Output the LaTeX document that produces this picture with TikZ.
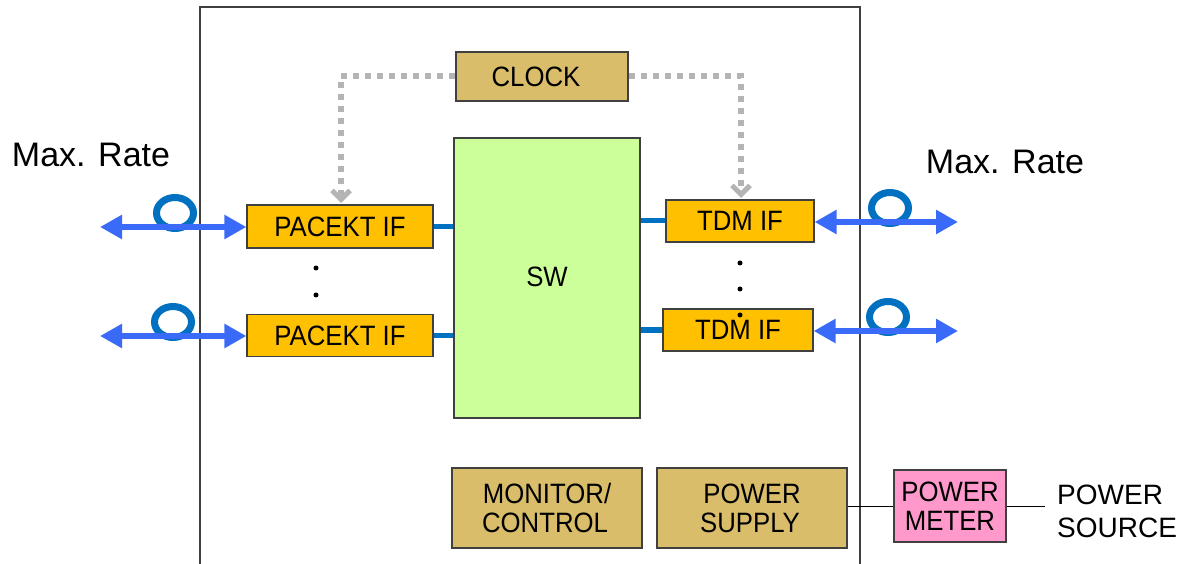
\documentclass[tikz,border=0pt]{standalone}
\usepackage{fontspec}
\setmainfont{Liberation Sans}
\newfontfamily\boxfont[FakeStretch=0.92]{Liberation Sans}
\usetikzlibrary{arrows.meta}
\definecolor{tan}{HTML}{DABD6A}
\definecolor{ifor}{HTML}{FFC000}
\definecolor{swgreen}{HTML}{CCFF99}
\definecolor{pinkm}{HTML}{FF99CC}
\definecolor{linkblue}{HTML}{0070C0}
\definecolor{arrblue}{HTML}{3A6BF8}
\definecolor{clkgray}{HTML}{B4B4B4}
\definecolor{frame}{HTML}{404040}
\tikzset{
  blk/.style={draw=frame, line width=1.2pt, inner sep=0pt, align=center,
    font=\boxfont\fontsize{28}{29}\selectfont},
  link/.style={linkblue, line width=5pt},
  bidir/.style={arrblue, line width=5.5pt,
    {Triangle[length=22pt,width=23pt]}-{Triangle[length=22pt,width=23pt]}},
  ring/.style={linkblue, line width=7pt},
  clk/.style={clkgray, line width=6pt, dash pattern=on 6pt off 6pt,
    -{Straight Barb[length=9pt,width=18pt,line width=5pt]}},
  thin/.style={draw=black, line width=1pt},
  dotm/.style={fill=black, circle, inner sep=0pt, minimum size=5pt},
  lbl/.style={inner sep=0pt, font=\fontsize{34}{36}\selectfont},
  srcl/.style={inner sep=0pt, align=left, font=\fontsize{28}{33}\selectfont}
}
\begin{document}
\begin{tikzpicture}[x=1pt,y=-1pt]
\useasboundingbox (0,0) rectangle (1195,564);
% outer frame
\draw[frame, line width=1.2pt] (200,564) -- (200,7) -- (860,7) -- (860,564);

% blocks
\node[blk, fill=tan, minimum width=172pt, minimum height=49pt] (clock) at (542,76.5) {\hspace*{-12pt}CLOCK};
\node[blk, fill=swgreen, minimum width=186pt, minimum height=280pt] (sw) at (547,278) {};
\node[font=\boxfont\fontsize{28}{29}\selectfont, inner sep=0pt] (swl) at (547,277) {SW};
\node[blk, fill=ifor, minimum width=186pt, minimum height=43pt] (p1) at (340,226.5) {PACEKT IF};
\node[blk, fill=ifor, minimum width=186pt, minimum height=42pt] (p2) at (340,335.5) {PACEKT IF};
\node[blk, fill=ifor, minimum width=148pt, minimum height=42pt] (t1) at (740,221) {TDM IF};
\node[blk, fill=ifor, minimum width=150pt, minimum height=42pt] (t2) at (738,330) {TDM IF};
\node[blk, fill=tan, minimum width=190pt, minimum height=80pt] (mon) at (547,508) {MONITOR/\\CONTROL\hspace*{4pt}};
\node[blk, fill=tan, minimum width=190pt, minimum height=80pt] (ps) at (752,508) {POWER\\SUPPLY\hspace*{4pt}};
\node[blk, fill=pinkm, minimum width=112pt, minimum height=72pt] (pm) at (950,506) {POWER\\METER};
\node[srcl, anchor=west] (src) at (1057,511) {POWER\\SOURCE};

% labels
\node[lbl] (mrl) at (91,155) {Max. Rate};
\node[lbl] (mrr) at (1005,162) {Max. Rate};

% dots
\node[dotm] (d1) at (316,268) {};
\node[dotm] (d2) at (316,295) {};
\node[dotm] (d3) at (740,263) {};
\node[dotm] (d4) at (740,289) {};
\node[dotm] (d5) at (740,315) {};

% links to switch
\draw[link] (p1.east) -- (p1.east -| sw.west);
\draw[link] (p2.east) -- (p2.east -| sw.west);
\draw[link] (t1.west -| sw.east) -- (t1.west);
\draw[link] (t2.west -| sw.east) -- (t2.west);

% clock distribution
\coordinate (cl) at (341,203);
\coordinate (cr) at (741,198);
\draw[clk] (clock.west) -| (cl);
\draw[clk] (clock.east) -| (cr);

% rings
\draw[ring] (175,213) ellipse (18.5pt and 15.5pt);
\draw[ring] (173,322) ellipse (18.5pt and 15.5pt);
\draw[ring] (890,208) ellipse (18.5pt and 15.5pt);
\draw[ring] (888,317) ellipse (18.5pt and 15.5pt);

% external bidirectional arrows
\coordinate (la1) at (100,227);
\coordinate (la2) at (100,336);
\coordinate (ra1) at (958,222);
\coordinate (ra2) at (958,331);
\draw[bidir] (la1) -- (la1 -| p1.west);
\draw[bidir] (la2) -- (la2 -| p2.west);
\draw[bidir] (ra1 -| t1.east) -- (ra1);
\draw[bidir] (ra2 -| t2.east) -- (ra2);

% power lines
\coordinate (pe) at (1045,506);
\draw[thin] (ps.east |- pm.west) -- (pm.west);
\draw[thin] (pm.east) -- (pe);
\end{tikzpicture}
\end{document}
